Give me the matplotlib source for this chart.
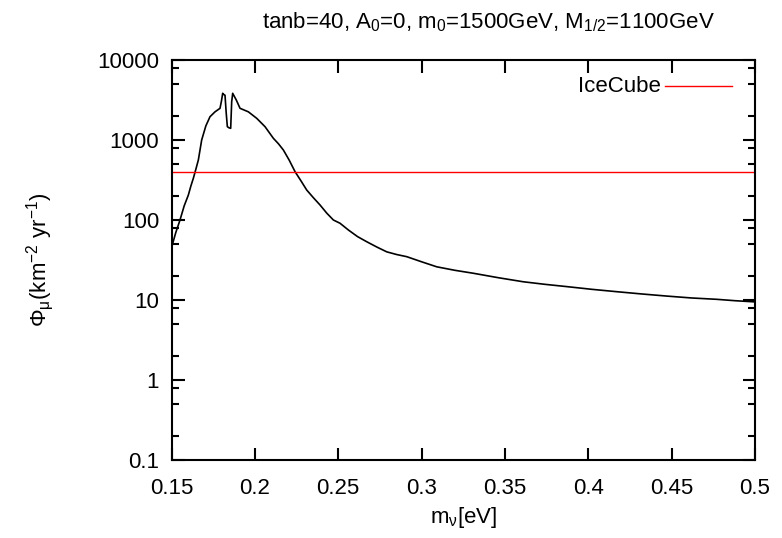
import matplotlib
matplotlib.use("Agg")
import matplotlib.pyplot as plt
from matplotlib.ticker import LogLocator, NullFormatter

plt.rcParams['font.family'] = ['Liberation Sans', 'DejaVu Sans']
plt.rcParams['mathtext.fontset'] = 'custom'
plt.rcParams['mathtext.rm'] = 'Liberation Sans'
plt.rcParams['mathtext.it'] = 'Liberation Sans'
plt.rcParams['mathtext.sf'] = 'Liberation Sans'

# neutrino mass [eV] and muon flux [km^-2 yr^-1]
m_nu = [0.1501, 0.1526, 0.1551, 0.1576, 0.1601, 0.1616, 0.1631, 0.1646, 0.1661,
        0.1681, 0.1706, 0.1731, 0.1761, 0.1791, 0.1800, 0.1807, 0.1814, 0.1821,
        0.1828, 0.1835, 0.1845, 0.1855, 0.1861, 0.1867, 0.1889, 0.1911, 0.1961,
        0.2011, 0.2061, 0.2111, 0.2141, 0.2171, 0.2206, 0.2241, 0.2276, 0.2311,
        0.2351, 0.2391, 0.2431, 0.2471, 0.2511, 0.2561, 0.2616, 0.2671, 0.2731,
        0.2791, 0.2851, 0.2911, 0.3001, 0.3091, 0.3200, 0.3310, 0.3460, 0.3610,
        0.3740, 0.3871, 0.4021, 0.4171, 0.4320, 0.4470, 0.4620, 0.4770, 0.4880,
        0.4990]
flux = [46, 70, 100, 150, 205, 265, 332, 430, 562,
        1000, 1500, 1955, 2250, 2490, 3100, 3835, 3700, 3630,
        2200, 1467, 1420, 1400, 3000, 3835, 3150, 2490, 2250,
        1867, 1467, 1050, 900, 750, 560, 402, 310, 237,
        190, 154, 122, 100, 91, 75, 62, 53.5, 46,
        40, 37, 34.8, 30, 26, 23.5, 21.6, 19, 16.9,
        15.7, 14.7, 13.6, 12.7, 11.9, 11.2, 10.6, 10.2, 9.8,
        9.5]

icecube_limit = 400

FS = 16

fig = plt.figure(figsize=(7.82, 5.38), dpi=100)
ax = fig.add_axes([171.5 / 782, 1 - 460 / 538, 583.5 / 782, 400 / 538])

ax.plot(m_nu, flux, color='black', lw=1.2)
ax.axhline(icecube_limit, color='red', lw=1.0)

ax.set_yscale('log')
ax.set_xlim(0.15, 0.5)
ax.set_ylim(0.1, 10000)
ax.set_xticks([0.15, 0.2, 0.25, 0.3, 0.35, 0.4, 0.45, 0.5])
ax.set_xticklabels(['0.15', '0.2', '0.25', '0.3', '0.35', '0.4', '0.45', '0.5'])
ax.set_yticks([0.1, 1, 10, 100, 1000, 10000])
ax.set_yticklabels(['0.1', '1', '10', '100', '1000', '10000'])
ax.yaxis.set_minor_locator(LogLocator(base=10, subs=[2, 5, 8]))
ax.yaxis.set_minor_formatter(NullFormatter())

ax.tick_params(which='both', direction='in', top=True, right=True,
               labelsize=FS, width=1.5)
ax.tick_params(axis='x', pad=13)
ax.tick_params(axis='y', pad=9)
ax.tick_params(which='major', length=9)
ax.tick_params(which='minor', length=5)
for s in ax.spines.values():
    s.set_linewidth(1.5)

# legend drawn as gnuplot-style key in the upper right
ax.plot([0.4458, 0.4860], [4700, 4700], color='red', lw=1.0)
ax.text(0.4437, 4700, 'IceCube', ha='right', va='center', fontsize=FS)

ax.set_xlabel(r'm$_{\nu}$[eV]', fontsize=FS, va='center')
ax.xaxis.set_label_coords(0.5, -0.145)
ax.set_ylabel(r'$\Phi_{\mu}$(km$^{-2}$ yr$^{-1}$)', fontsize=FS, va='center')
ax.yaxis.set_label_coords(-0.225, 0.5)
fig.text(488 / 782, 1 - 22 / 538,
         r'tanb=40, A$_0$=0, m$_0$=1500GeV, M$_{1/2}$=1100GeV',
         ha='center', va='center', fontsize=FS)

fig.savefig('out.png', dpi=100)
